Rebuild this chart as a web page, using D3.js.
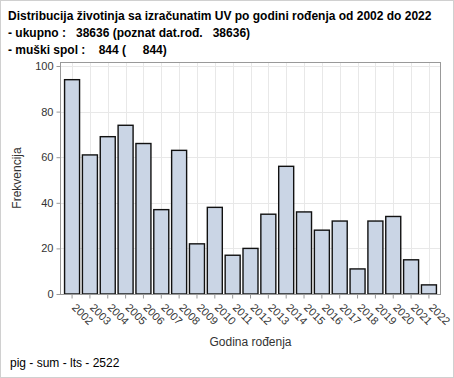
<!DOCTYPE html>
<html><head><meta charset="utf-8">
<script src="https://cdn.jsdelivr.net/npm/d3@7"></script>
<style>
body{margin:0;background:#fff;}
svg{display:block;font-family:"Liberation Sans",Arial,sans-serif;}
text{white-space:pre;}
</style></head>
<body>
<script>
const years = ["2002","2003","2004","2005","2006","2007","2008","2009","2010","2011","2012","2013","2014","2015","2016","2017","2018","2019","2020","2021","2022"];
const counts = [94,61,69,74,66,37,63,22,38,17,20,35,56,36,28,32,11,32,34,15,4];
const yTicks = [0,20,40,60,80,100];
const titleLines = [
  "Distribucija životinja sa izračunatim UV po godini rođenja od 2002 do 2022",
  "- ukupno :   38636 (poznat dat.rođ.   38636)",
  "- muški spol :    844 (     844)"
];
const footer = "pig - sum - lts - 2522";
const xTitle = "Godina rođenja";
const yTitle = "Frekvencija";

const W = 454, H = 378;
const L = 60, R = 441, T = 62, B = 294;

const svg = d3.select("body").append("svg").attr("width", W).attr("height", H);
svg.append("rect").attr("x",0.5).attr("y",0.5).attr("width",W-1).attr("height",H-1)
  .attr("fill","#fff").attr("stroke","#d0d0d0");

const x = d3.scaleBand().domain(years).range([L+3.5, R-3.5]).paddingInner(0.16).paddingOuter(0.06);
const y = d3.scaleLinear().domain([0,100]).range([B, B-228]);

// grid
const g = svg.append("g");
g.selectAll(".hg").data(yTicks).join("line")
  .attr("x1",L).attr("x2",R).attr("y1",d=>Math.round(y(d))+0.5).attr("y2",d=>Math.round(y(d))+0.5)
  .attr("stroke","#e8e8e8");
g.selectAll(".vg").data(years).join("line")
  .attr("x1",d=>Math.round(x(d)+x.bandwidth()/2)+0.5).attr("x2",d=>Math.round(x(d)+x.bandwidth()/2)+0.5)
  .attr("y1",T).attr("y2",B).attr("stroke","#e8e8e8");

// bars
svg.selectAll(".bar").data(years).join("rect")
  .attr("x",d=>x(d)).attr("width",x.bandwidth())
  .attr("y",(d,i)=>y(counts[i])).attr("height",(d,i)=>B-y(counts[i]))
  .attr("fill","#cad5e5").attr("stroke","#111").attr("stroke-width",1.4);

// frame
svg.append("rect").attr("x",L+0.5).attr("y",T+0.5).attr("width",R-L-1).attr("height",B-T)
  .attr("fill","none").attr("stroke","#999");

// y axis
const ya = svg.append("g").attr("transform",`translate(${L+0.5},0)`)
  .call(d3.axisLeft(y).tickValues(yTicks).tickSize(4).tickPadding(3).tickFormat(d3.format("d")));
ya.select(".domain").remove();
ya.selectAll("line").attr("stroke","#999");
ya.selectAll("text").attr("fill","#333").attr("font-size","11px").attr("font-family",null);

// x axis
const xa = svg.append("g").attr("transform",`translate(0,${B+0.5})`)
  .call(d3.axisBottom(x).tickSize(4).tickSizeOuter(0));
xa.select(".domain").remove();
xa.selectAll("line").attr("stroke","#999");
xa.selectAll("text").attr("fill","#333").attr("font-size","11px").attr("font-family",null)
  .attr("text-anchor","start").attr("y",0).attr("dy","0.35em")
  .attr("transform","translate(2,11) rotate(45)");

// axis titles
svg.append("text").attr("x",(L+R)/2).attr("y",346).attr("text-anchor","middle")
  .attr("font-size","12px").attr("fill","#333").text(xTitle);
svg.append("text").attr("transform",`translate(21,${(T+B)/2}) rotate(-90)`).attr("text-anchor","middle")
  .attr("font-size","12px").attr("fill","#333").text(yTitle);

// titles
svg.selectAll(".tl").data(titleLines).join("text")
  .attr("x",8).attr("y",(d,i)=>20+i*17).attr("font-size","12px").attr("font-weight","bold")
  .attr("fill","#000").text(d=>d);
svg.append("text").attr("x",10).attr("y",367).attr("font-size","12px").attr("fill","#000").text(footer);
</script>
</body></html>
